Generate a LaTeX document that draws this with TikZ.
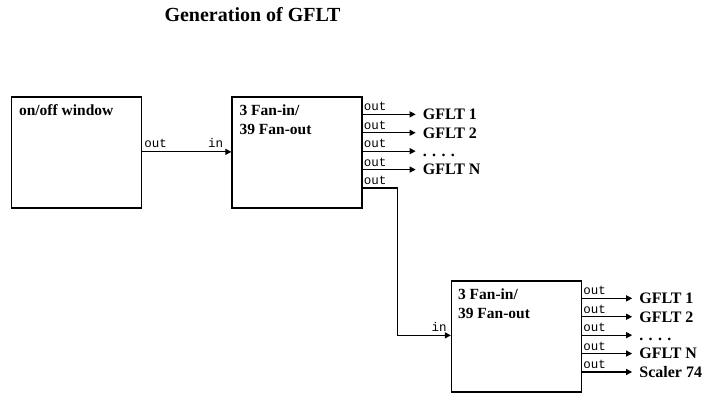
\documentclass[tikz,border=0pt]{standalone}
\usepackage{fontspec}
\setmainfont{Liberation Serif}
\setmonofont{Liberation Mono}
\usetikzlibrary{arrows.meta,positioning}

\tikzset{
    unit/.style={draw, line width=1.3pt, minimum width=130pt, minimum height=111pt, inner sep=0pt},
    unitname/.style={font=\fontsize{15.5}{19}\selectfont\bfseries, align=left, inner sep=0pt, anchor=north west},
    sig/.style={font=\fontsize{16}{19}\selectfont\bfseries, anchor=west, inner xsep=7pt, inner ysep=0pt, text height=10.5pt, text depth=0pt},
    portname/.style={font=\fontsize{12.5}{14}\selectfont\ttfamily, inner sep=0pt},
    wire/.style={line width=1.1pt},
    feed/.style={wire, -{Triangle[length=6pt,width=6pt]}},
}

\begin{document}
\begin{tikzpicture}[x=1pt, y=-1pt]
    \useasboundingbox (0,0) rectangle (705,394);
    \node[font=\fontsize{20}{24}\selectfont\bfseries, anchor=base] (title) at (252.5,21) {Generation of GFLT};

    % the three units
    \node[unit] (win) at (76.5,152.5) {};
    \node[unit] (fanA) at (297,152.5) {};
    \node[unit] (fanB) at (516.5,336.5) {};
    \node[unitname] (win-t) at ([shift={(8,8)}]win.north west) {on/off window};
    \node[unitname] (fanA-t) at ([shift={(8,8)}]fanA.north west) {3 Fan-in/\\39 Fan-out};
    \node[unitname] (fanB-t) at ([shift={(7,8)}]fanB.north west) {3 Fan-in/\\39 Fan-out};

    % window -> first fan-out
    \coordinate (win-o) at ([shift={(0,55.5)}]win.north east);
    \coordinate (fanA-i) at ([shift={(0,55.5)}]fanA.north west);
    \draw[feed] (win-o) -- (fanA-i);
    \node[portname, anchor=base west] (win-l) at ([shift={(2,-4)}]win-o) {out};
    \node[portname, anchor=base east] (fanA-il) at ([shift={(-8,-4)}]fanA-i) {in};

    % outputs of the first fan-out
    \foreach \i/\t in {1/GFLT 1, 2/GFLT 2, 3/{. . . .}, 4/GFLT N, 5/{}} {
        \coordinate (fanA-o\i) at ([shift={(0,18.4*\i-0.4)}]fanA.north east);
        \node[portname, anchor=base west] (fanA-l\i) at ([shift={(1,-3.5)}]fanA-o\i) {out};
    }
    \foreach \i/\t in {1/GFLT 1, 2/GFLT 2, 3/{. . . .}, 4/GFLT N} {
        \node[sig] (fanA-s\i) at ([shift={(53,0)}]fanA-o\i) {\t};
        \draw[feed] (fanA-o\i) -- (fanA-s\i.west);
    }

    % cascade into the second fan-out
    \coordinate (fanB-i) at ([shift={(0,55)}]fanB.north west);
    \draw[feed] (fanA-o5) -- ++(35,0) |- (fanB-i);
    \node[portname, anchor=base east] (fanB-il) at ([shift={(-4,-4)}]fanB-i) {in};

    % outputs of the second fan-out
    \foreach \i/\t in {1/GFLT 1, 2/GFLT 2, 3/{. . . .}, 4/GFLT N, 5/Scaler 74} {
        \coordinate (fanB-o\i) at ([shift={(0,18.4*\i-0.4)}]fanB.north east);
        \node[portname, anchor=base west] (fanB-l\i) at ([shift={(1,-3.5)}]fanB-o\i) {out};
        \node[sig] (fanB-s\i) at ([shift={(50,0)}]fanB-o\i) {\t};
        \draw[feed] (fanB-o\i) -- (fanB-s\i.west);
    }
\end{tikzpicture}
\end{document}
